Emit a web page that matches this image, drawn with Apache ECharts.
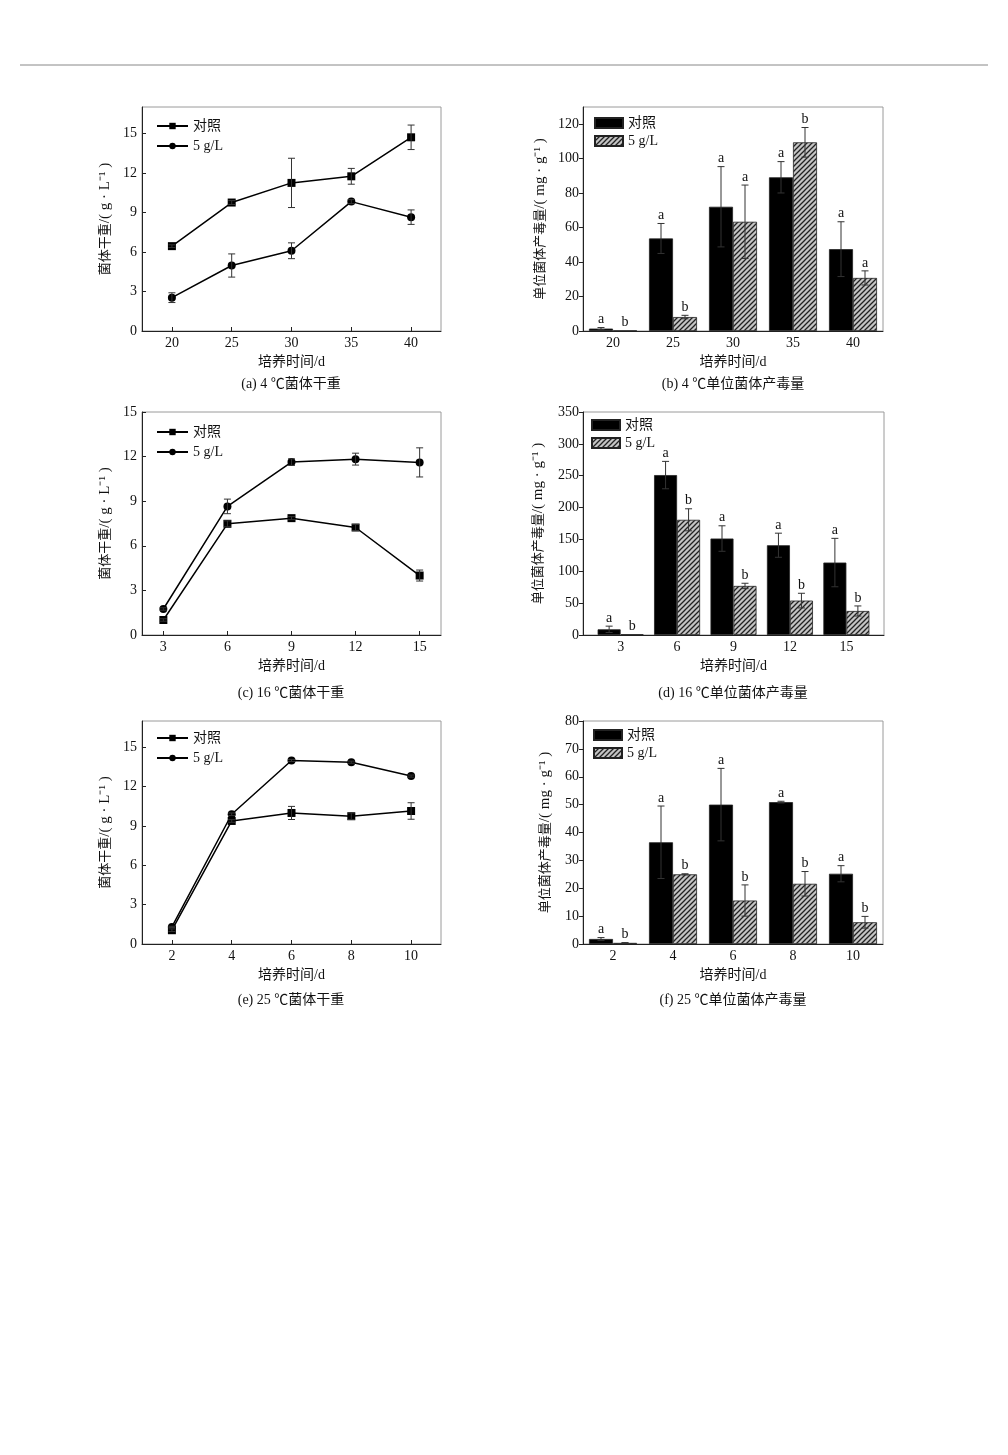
<!DOCTYPE html>
<html>
<head>
<meta charset="utf-8">
<script src="https://cdn.jsdelivr.net/npm/echarts@6/dist/echarts.min.js"></script>
<style>html,body{margin:0;padding:0;background:#fff}#c{width:1008px;height:1455px}</style>
</head>
<body>
<div id="c"></div>
<script>
// ---------------- data ----------------
const names = ['对照', '5 g/L'];
const xA = [20, 25, 30, 35, 40];
const aCtrl = [6.44, 9.75, 11.24, 11.74, 14.7];
const aCtrlErr = [0.1, 0.15, 1.87, 0.6, 0.93];
const aTrt = [2.53, 4.97, 6.09, 9.82, 8.64];
const aTrtErr = [0.37, 0.88, 0.6, 0.15, 0.55];

const bCtrl = [1.4, 53.7, 72.1, 89.2, 47.5];
const bCtrlErr = [0.6, 8.7, 23.3, 9.1, 15.9];
const bTrt = [0.2, 8.1, 63.4, 109.5, 30.8];
const bTrtErr = [0, 1, 21.3, 8.6, 4.1];
const bCtrlLet = ['a', 'a', 'a', 'a', 'a'];
const bTrtLet = ['b', 'b', 'a', 'b', 'a'];

const xC = [3, 6, 9, 12, 15];
const cCtrl = [1.01, 7.48, 7.86, 7.23, 4.0];
const cCtrlErr = [0.08, 0.2, 0.1, 0.2, 0.37];
const cTrt = [1.75, 8.65, 11.63, 11.83, 11.61];
const cTrtErr = [0.08, 0.49, 0.22, 0.4, 0.98];

const dCtrl = [8.9, 251, 151.4, 140.9, 113.7];
const dCtrlErr = [5, 21.5, 20, 18.9, 38];
const dTrt = [1, 180.8, 77, 54, 37.7];
const dTrtErr = [0, 17.3, 4.2, 11.5, 7.9];
const dCtrlLet = ['a', 'a', 'a', 'a', 'a'];
const dTrtLet = ['b', 'b', 'b', 'b', 'b'];

const xE = [2, 4, 6, 8, 10];
const eCtrl = [1.05, 9.38, 9.99, 9.74, 10.14];
const eCtrlErr = [0.1, 0.1, 0.5, 0.25, 0.63];
const eTrt = [1.3, 9.89, 13.99, 13.86, 12.8];
const eTrtErr = [0.05, 0.1, 0.08, 0.08, 0.08];

const fCtrl = [1.8, 36.5, 50, 50.9, 25.2];
const fCtrlErr = [0.5, 13, 13, 0.3, 2.9];
const fTrt = [0.4, 25, 15.6, 21.6, 7.8];
const fTrtErr = [0.1, 0.2, 5.6, 4.4, 2.1];
const fCtrlLet = ['a', 'a', 'a', 'a', 'a'];
const fTrtLet = ['b', 'b', 'b', 'b', 'b'];

const yTicksDry = [0, 3, 6, 9, 12, 15];
const yTicksB = [0, 20, 40, 60, 80, 100, 120];
const yTicksD = [0, 50, 100, 150, 200, 250, 300, 350];
const yTicksF = [0, 10, 20, 30, 40, 50, 60, 70, 80];

const titles = ['(a) 4 ℃菌体干重', '(b) 4 ℃单位菌体产毒量', '(c) 16 ℃菌体干重',
  '(d) 16 ℃单位菌体产毒量', '(e) 25 ℃菌体干重', '(f) 25 ℃单位菌体产毒量'];
const xName = '培养时间/d';
const yNameDry = ['菌体干重', '/( g · L⁻¹ )'];
const yNameTox = ['单位菌体产毒量', '/( mg · g⁻¹ )'];

// ---------------- styling helpers ----------------
const FONT = '"Liberation Serif", "Noto Sans CJK SC", serif';
const pc = document.createElement('canvas');
pc.width = 5; pc.height = 5;
(function () {
  const g = pc.getContext('2d');
  g.fillStyle = '#c4c4c4'; g.fillRect(0, 0, 5, 5);
  g.strokeStyle = '#222'; g.lineWidth = 1.3;
  g.beginPath();
  g.moveTo(-1, 6); g.lineTo(6, -1);
  g.moveTo(-1, 1); g.lineTo(1, -1);
  g.moveTo(4, 6); g.lineTo(6, 4);
  g.stroke();
})();
const hatch = { image: pc, repeat: 'repeat' };

const grids = [
  { left: 142, top: 107, width: 299, height: 224 },
  { left: 583, top: 107, width: 300, height: 224 },
  { left: 142, top: 412, width: 299, height: 223 },
  { left: 583, top: 412, width: 301, height: 223 },
  { left: 142, top: 721, width: 299, height: 223 },
  { left: 583, top: 721, width: 300, height: 223 }
].map(g => Object.assign({ show: true, borderColor: '#9a9a9a', borderWidth: 1, containLabel: false }, g));

function xAxisDef(i, min, max, ticks, showTick) {
  return {
    type: 'value', gridIndex: i, min: min, max: max,
    name: xName, nameLocation: 'middle', nameGap: 24,
    nameTextStyle: { fontFamily: FONT, fontSize: 14, color: '#111' },
    axisLine: { show: true, lineStyle: { color: '#222', width: 1 } },
    axisTick: { show: showTick, inside: true, length: 4, customValues: ticks, lineStyle: { color: '#222' } },
    axisLabel: { customValues: ticks, fontFamily: FONT, fontSize: 14, color: '#111', margin: 5 },
    splitLine: { show: false }
  };
}
function yAxisDef(i, max, ticks, nm, gap, inside) {
  return {
    type: 'value', gridIndex: i, min: 0, max: max,
    name: '{c|' + nm[0] + '}{u|' + nm[1] + '}', nameLocation: 'middle', nameGap: gap, nameRotate: 90,
    nameTextStyle: {
      fontFamily: FONT, fontSize: 13, color: '#111',
      rich: { c: { fontFamily: FONT, fontSize: 13, color: '#111' },
              u: { fontFamily: FONT, fontSize: 15, color: '#111' } }
    },
    axisLine: { show: true, lineStyle: { color: '#222', width: 1 } },
    axisTick: { show: true, inside: inside, length: 4, customValues: ticks, lineStyle: { color: '#222' } },
    axisLabel: { customValues: ticks, fontFamily: FONT, fontSize: 14, color: '#111', margin: inside ? 5 : 4 },
    splitLine: { show: false }
  };
}

function pairs(xs, ys, es) { return xs.map((x, k) => [x, ys[k], es[k]]); }

function errSeries(i, xs, ys, es, off, letters, cap) {
  return {
    type: 'custom', xAxisIndex: i, yAxisIndex: i, z: 5, clip: false,
    encode: { x: 0, y: 1 },
    data: pairs(xs, ys, es),
    renderItem: function (params, api) {
      const x = api.value(0), y = api.value(1), e = api.value(2);
      const t = api.coord([x, y + e]);
      const b = api.coord([x, Math.max(0, y - e)]);
      const px = t[0] + off;
      const ls = { stroke: '#333', lineWidth: 1 };
      const ch = [];
      if (e > 0) {
        ch.push({ type: 'line', shape: { x1: px, y1: t[1], x2: px, y2: b[1] }, style: ls });
        ch.push({ type: 'line', shape: { x1: px - cap, y1: t[1], x2: px + cap, y2: t[1] }, style: ls });
        ch.push({ type: 'line', shape: { x1: px - cap, y1: b[1], x2: px + cap, y2: b[1] }, style: ls });
      }
      if (letters) {
        ch.push({ type: 'text', style: { text: letters[params.dataIndex], x: px, y: t[1] - 1,
          align: 'center', verticalAlign: 'bottom', font: '14px ' + FONT, fill: '#111' } });
      }
      return { type: 'group', children: ch };
    }
  };
}

function lineSeries(i, name, sym, xs, ys) {
  return {
    type: 'line', name: name, xAxisIndex: i, yAxisIndex: i, z: 4,
    data: xs.map((x, k) => [x, ys[k]]),
    symbol: sym, symbolSize: 8, showAllSymbol: true,
    itemStyle: { color: '#000' }, lineStyle: { color: '#000', width: 1.5 }
  };
}
function barSeries(i, name, xs, ys, color, w) {
  return {
    type: 'bar', name: name, xAxisIndex: i, yAxisIndex: i, z: 3,
    data: xs.map((x, k) => [x, ys[k]]),
    barWidth: w, barGap: '0%',
    itemStyle: { color: color, borderColor: '#222', borderWidth: 0.8 }
  };
}

const barNames = ['对照 ', '5 g/L '];
const series = [
  // (a)
  lineSeries(0, names[0], 'rect', xA, aCtrl), lineSeries(0, names[1], 'circle', xA, aTrt),
  errSeries(0, xA, aCtrl, aCtrlErr, 0, null, 3.5), errSeries(0, xA, aTrt, aTrtErr, 0, null, 3.5),
  // (b)
  barSeries(1, barNames[0], xA, bCtrl, '#000', 24), barSeries(1, barNames[1], xA, bTrt, hatch, 24),
  errSeries(1, xA, bCtrl, bCtrlErr, -12, bCtrlLet, 3.5), errSeries(1, xA, bTrt, bTrtErr, 12, bTrtLet, 3.5),
  // (c)
  lineSeries(2, names[0], 'rect', xC, cCtrl), lineSeries(2, names[1], 'circle', xC, cTrt),
  errSeries(2, xC, cCtrl, cCtrlErr, 0, null, 3.5), errSeries(2, xC, cTrt, cTrtErr, 0, null, 3.5),
  // (d)
  barSeries(3, barNames[0], xC, dCtrl, '#000', 23), barSeries(3, barNames[1], xC, dTrt, hatch, 23),
  errSeries(3, xC, dCtrl, dCtrlErr, -11.5, dCtrlLet, 3.5), errSeries(3, xC, dTrt, dTrtErr, 11.5, dTrtLet, 3.5),
  // (e)
  lineSeries(4, names[0], 'rect', xE, eCtrl), lineSeries(4, names[1], 'circle', xE, eTrt),
  errSeries(4, xE, eCtrl, eCtrlErr, 0, null, 3.5), errSeries(4, xE, eTrt, eTrtErr, 0, null, 3.5),
  // (f)
  barSeries(5, barNames[0], xE, fCtrl, '#000', 24), barSeries(5, barNames[1], xE, fTrt, hatch, 24),
  errSeries(5, xE, fCtrl, fCtrlErr, -12, fCtrlLet, 3.5), errSeries(5, xE, fTrt, fTrtErr, 12, fTrtLet, 3.5)
];

function lineLegend(left, top) {
  return {
    orient: 'vertical', left: left, top: top, itemWidth: 31, itemHeight: 8, itemGap: 6,
    selectedMode: false, padding: 0,
    textStyle: { fontFamily: FONT, fontSize: 14, color: '#111' },
    data: names.map(n => ({ name: n }))
  };
}
function barLegend(left, top) {
  return {
    orient: 'vertical', left: left, top: top, itemWidth: 28, itemHeight: 10, itemGap: 4,
    selectedMode: false, padding: 0,
    formatter: n => n.trim(),
    textStyle: { fontFamily: FONT, fontSize: 14, color: '#111' },
    data: barNames.map(n => ({ name: n, icon: 'rect' }))
  };
}

const titlePos = [[291, 384], [733, 384], [291, 693], [733, 693], [291, 1000], [733, 1000]];

const option = {
  backgroundColor: '#fff',
  animation: false,
  grid: grids,
  xAxis: [
    xAxisDef(0, 17.5, 42.5, xA, true), xAxisDef(1, 17.5, 42.5, xA, false),
    xAxisDef(2, 2, 16, xC, true), xAxisDef(3, 1, 17, xC, false),
    xAxisDef(4, 1, 11, xE, true), xAxisDef(5, 1, 11, xE, false)
  ],
  yAxis: [
    yAxisDef(0, 17, yTicksDry, yNameDry, 29, true), yAxisDef(1, 130, yTicksB, yNameTox, 35, false),
    yAxisDef(2, 15, yTicksDry, yNameDry, 29, true), yAxisDef(3, 350, yTicksD, yNameTox, 37, false),
    yAxisDef(4, 17, yTicksDry, yNameDry, 29, true), yAxisDef(5, 80, yTicksF, yNameTox, 30, false)
  ],
  legend: [
    lineLegend(156, 119), barLegend(594, 116),
    lineLegend(156, 425), barLegend(591, 418),
    lineLegend(156, 731), barLegend(593, 728)
  ],
  graphic: [
    { type: 'line', shape: { x1: 20, y1: 65, x2: 988, y2: 65 }, style: { stroke: '#888', lineWidth: 1 } }
  ].concat(titles.map((t, k) => ({
    type: 'text', x: titlePos[k][0], y: titlePos[k][1],
    style: { text: t, align: 'center', verticalAlign: 'middle', font: '14px ' + FONT, fill: '#111' }
  }))),
  series: series
};

const chart = echarts.init(document.getElementById('c'));
chart.setOption(option);
</script>
</body>
</html>
